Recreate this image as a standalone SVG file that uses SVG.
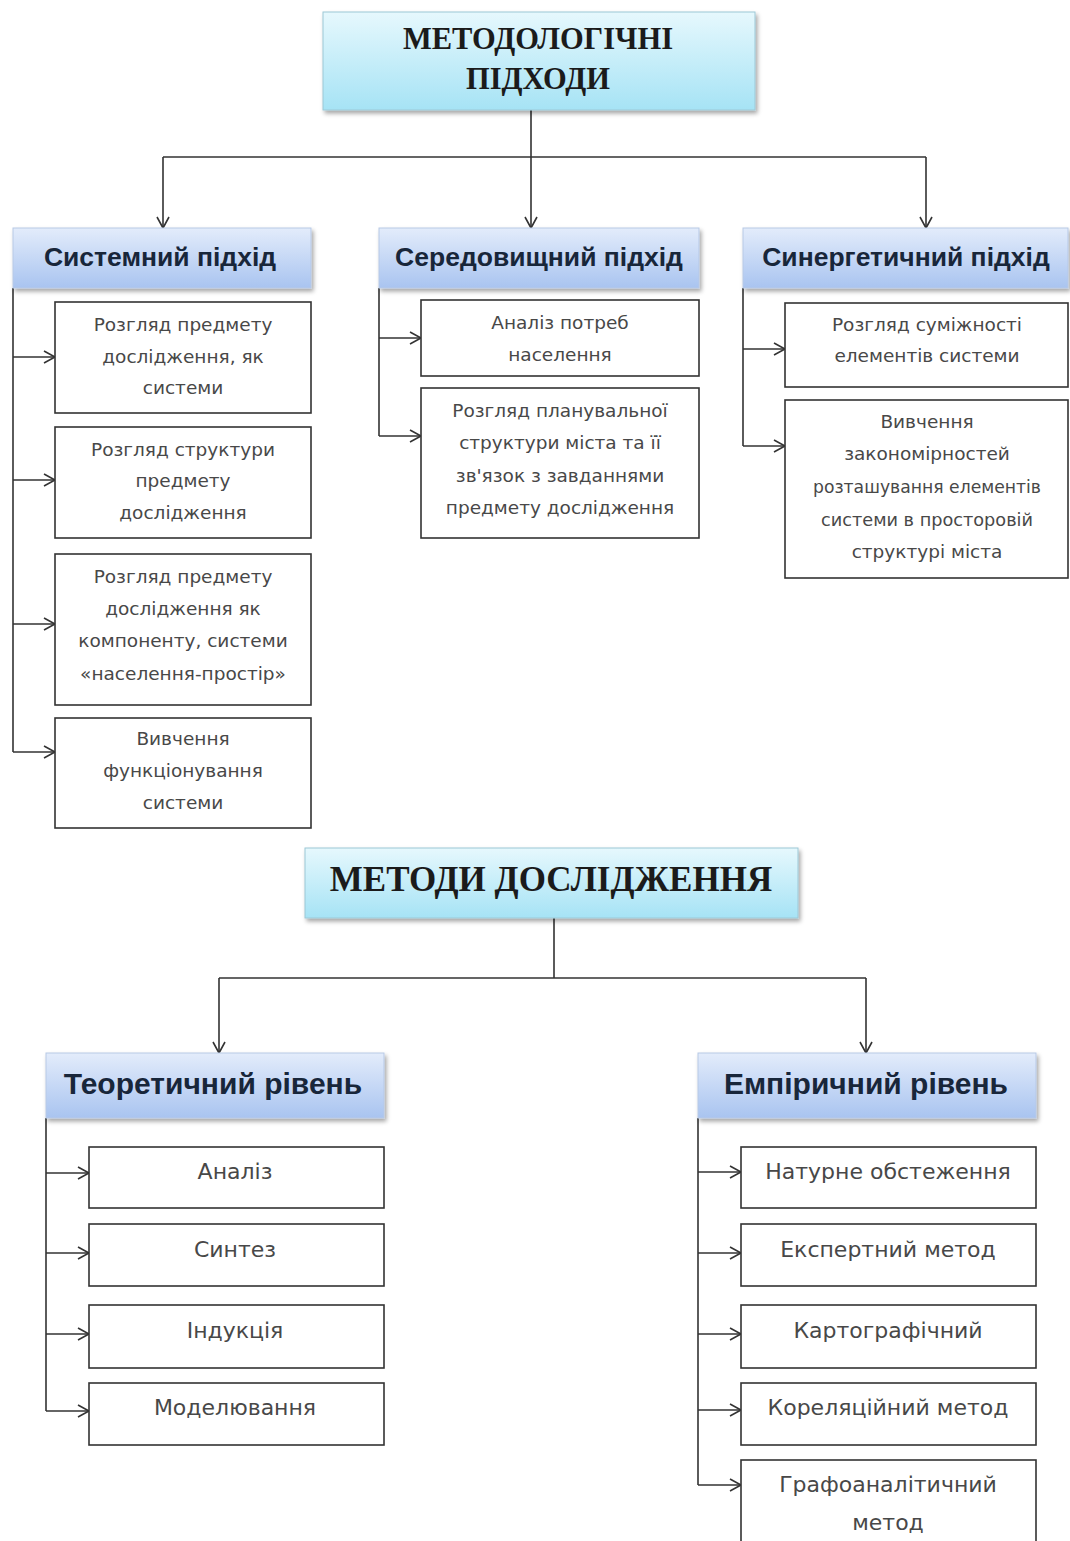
<svg xmlns="http://www.w3.org/2000/svg" width="1070" height="1541" viewBox="0 0 1070 1541">
  <defs>
    <linearGradient id="gTitle" x1="0" y1="0" x2="0" y2="1">
      <stop offset="0" stop-color="#e6f8fd"/>
      <stop offset="1" stop-color="#a6e3f5"/>
    </linearGradient>
    <linearGradient id="gHead" x1="0" y1="0" x2="0" y2="1">
      <stop offset="0" stop-color="#e3ecfb"/>
      <stop offset="1" stop-color="#a9c4f0"/>
    </linearGradient>
    <filter id="shadow" x="-10%" y="-10%" width="120%" height="130%">
      <feDropShadow dx="2" dy="3" stdDeviation="2" flood-color="#000" flood-opacity="0.35"/>
    </filter>
    <marker id="arr" markerWidth="14" markerHeight="14" refX="12" refY="7" orient="auto" markerUnits="userSpaceOnUse">
      <path d="M1,1 L12,7 L1,13" fill="none" stroke="#333" stroke-width="1.6"/>
    </marker>
    <style>
      .title { fill: url(#gTitle); stroke: #9cc8d6; stroke-width: 1; filter: url(#shadow); }
      .head { fill: url(#gHead); stroke: #b7c9e6; stroke-width: 1; filter: url(#shadow); }
      .box { fill: #fff; stroke: #333; stroke-width: 1.6; }
      .tt { font-family: "Liberation Serif", "Times New Roman", serif; font-weight: bold; fill: #1b1b1b; text-anchor: middle; }
      .ht { font-family: "Liberation Sans", Arial, sans-serif; font-weight: bold; fill: #18263a; text-anchor: middle; }
      .bt { font-family: "DejaVu Sans", Verdana, sans-serif; fill: #484848; text-anchor: middle; font-size: 18.5px; }
      .bt2 { font-family: "DejaVu Sans", Verdana, sans-serif; fill: #484848; text-anchor: middle; font-size: 22px; }
      .ln { fill: none; stroke: #333; stroke-width: 1.6; }
      .ar { fill: none; stroke: #333; stroke-width: 1.6; marker-end: url(#arr); }
    </style>
  </defs>
  <rect width="1070" height="1541" fill="#fff"/>

  <!-- connectors -->
  <g id="connectors">
    <!-- approaches -->
    <path class="ln" d="M531,110 V157 M163,157 H926"/>
    <path class="ar" d="M163,157 V228"/>
    <path class="ar" d="M531,157 V228"/>
    <path class="ar" d="M926,157 V228"/>
    <path class="ln" d="M13,288 V752"/>
    <path class="ar" d="M13,357 H55"/>
    <path class="ar" d="M13,480 H55"/>
    <path class="ar" d="M13,624 H55"/>
    <path class="ar" d="M13,752 H55"/>
    <path class="ln" d="M379,288 V436"/>
    <path class="ar" d="M379,338 H421"/>
    <path class="ar" d="M379,436 H421"/>
    <path class="ln" d="M743,288 V446"/>
    <path class="ar" d="M743,349 H785"/>
    <path class="ar" d="M743,446 H785"/>
    <!-- methods -->
    <path class="ln" d="M554,918 V978 M219,978 H866"/>
    <path class="ar" d="M219,978 V1053"/>
    <path class="ar" d="M866,978 V1053"/>
    <path class="ln" d="M46,1118 V1411"/>
    <path class="ar" d="M46,1173 H89"/>
    <path class="ar" d="M46,1253 H89"/>
    <path class="ar" d="M46,1334 H89"/>
    <path class="ar" d="M46,1411 H89"/>
    <path class="ln" d="M698,1118 V1485"/>
    <path class="ar" d="M698,1172 H741"/>
    <path class="ar" d="M698,1253 H741"/>
    <path class="ar" d="M698,1334 H741"/>
    <path class="ar" d="M698,1410 H741"/>
    <path class="ar" d="M698,1485 H741"/>
  </g>

  <!-- methodological approaches -->
  <g id="n-approaches">
    <rect class="title" x="323" y="12" width="432" height="98"/>
    <text class="tt" font-size="30.5" x="538" y="49">МЕТОДОЛОГІЧНІ</text>
    <text class="tt" font-size="30.5" x="538" y="89">ПІДХОДИ</text>
  </g>

  <g id="n-system">
    <rect class="head" x="13" y="228" width="298" height="60"/>
    <text class="ht" font-size="26.5" x="160" y="266">Системний підхід</text>
  </g>
  <g id="n-env">
    <rect class="head" x="379" y="228" width="320" height="60"/>
    <text class="ht" font-size="26.5" x="539" y="266">Середовищний підхід</text>
  </g>
  <g id="n-syn">
    <rect class="head" x="743" y="228" width="325" height="60"/>
    <text class="ht" font-size="26.5" x="906" y="266">Синергетичний підхід</text>
  </g>

  <g id="n-s1">
    <rect class="box" x="55" y="302" width="256" height="111"/>
    <text class="bt" x="183" y="331">Розгляд предмету</text>
    <text class="bt" x="183" y="363">дослідження, як</text>
    <text class="bt" x="183" y="394">системи</text>
  </g>
  <g id="n-s2">
    <rect class="box" x="55" y="427" width="256" height="111"/>
    <text class="bt" x="183" y="456">Розгляд структури</text>
    <text class="bt" x="183" y="487">предмету</text>
    <text class="bt" x="183" y="519">дослідження</text>
  </g>
  <g id="n-s3">
    <rect class="box" x="55" y="554" width="256" height="151"/>
    <text class="bt" x="183" y="583">Розгляд предмету</text>
    <text class="bt" x="183" y="615">дослідження як</text>
    <text class="bt" x="183" y="647">компоненту, системи</text>
    <text class="bt" x="183" y="680">«населення-простір»</text>
  </g>
  <g id="n-s4">
    <rect class="box" x="55" y="718" width="256" height="110"/>
    <text class="bt" x="183" y="745">Вивчення</text>
    <text class="bt" x="183" y="777">функціонування</text>
    <text class="bt" x="183" y="809">системи</text>
  </g>

  <g id="n-e1">
    <rect class="box" x="421" y="300" width="278" height="76"/>
    <text class="bt" x="560" y="329">Аналіз потреб</text>
    <text class="bt" x="560" y="361">населення</text>
  </g>
  <g id="n-e2">
    <rect class="box" x="421" y="388" width="278" height="150"/>
    <text class="bt" x="560" y="417">Розгляд планувальної</text>
    <text class="bt" x="560" y="449">структури міста та її</text>
    <text class="bt" x="560" y="482">зв'язок з завданнями</text>
    <text class="bt" x="560" y="514">предмету дослідження</text>
  </g>

  <g id="n-y1">
    <rect class="box" x="785" y="303" width="283" height="84"/>
    <text class="bt" x="927" y="331">Розгляд суміжності</text>
    <text class="bt" x="927" y="362">елементів системи</text>
  </g>
  <g id="n-y2">
    <rect class="box" x="785" y="400" width="283" height="178"/>
    <text class="bt" x="927" y="428">Вивчення</text>
    <text class="bt" x="927" y="460">закономірностей</text>
    <text class="bt" x="927" y="493" textLength="228" lengthAdjust="spacingAndGlyphs">розташування елементів</text>
    <text class="bt" x="927" y="526" textLength="212" lengthAdjust="spacingAndGlyphs">системи в просторовій</text>
    <text class="bt" x="927" y="558">структурі міста</text>
  </g>

  <!-- research methods -->
  <g id="n-methods">
    <rect class="title" x="305" y="848" width="493" height="70"/>
    <text class="tt" font-size="35" x="551" y="891">МЕТОДИ ДОСЛІДЖЕННЯ</text>
  </g>

  <g id="n-theor">
    <rect class="head" x="46" y="1053" width="338" height="65"/>
    <text class="ht" font-size="30" x="213" y="1094">Теоретичний рівень</text>
  </g>
  <g id="n-emp">
    <rect class="head" x="698" y="1053" width="338" height="65"/>
    <text class="ht" font-size="30" x="866" y="1094">Емпіричний рівень</text>
  </g>

  <g id="n-t1">
    <rect class="box" x="89" y="1147" width="295" height="61"/>
    <text class="bt2" x="235" y="1179">Аналіз</text>
  </g>
  <g id="n-t2">
    <rect class="box" x="89" y="1224" width="295" height="62"/>
    <text class="bt2" x="235" y="1257">Синтез</text>
  </g>
  <g id="n-t3">
    <rect class="box" x="89" y="1305" width="295" height="63"/>
    <text class="bt2" x="235" y="1338">Індукція</text>
  </g>
  <g id="n-t4">
    <rect class="box" x="89" y="1383" width="295" height="62"/>
    <text class="bt2" x="235" y="1415">Моделювання</text>
  </g>

  <g id="n-m1">
    <rect class="box" x="741" y="1147" width="295" height="61"/>
    <text class="bt2" x="888" y="1179">Натурне обстеження</text>
  </g>
  <g id="n-m2">
    <rect class="box" x="741" y="1224" width="295" height="62"/>
    <text class="bt2" x="888" y="1257">Експертний метод</text>
  </g>
  <g id="n-m3">
    <rect class="box" x="741" y="1305" width="295" height="63"/>
    <text class="bt2" x="888" y="1338">Картографічний</text>
  </g>
  <g id="n-m4">
    <rect class="box" x="741" y="1383" width="295" height="62"/>
    <text class="bt2" x="888" y="1415">Кореляційний метод</text>
  </g>
  <g id="n-m5">
    <rect class="box" x="741" y="1460" width="295" height="90"/>
    <text class="bt2" x="888" y="1492">Графоаналітичний</text>
    <text class="bt2" x="888" y="1530">метод</text>
  </g>
</svg>
